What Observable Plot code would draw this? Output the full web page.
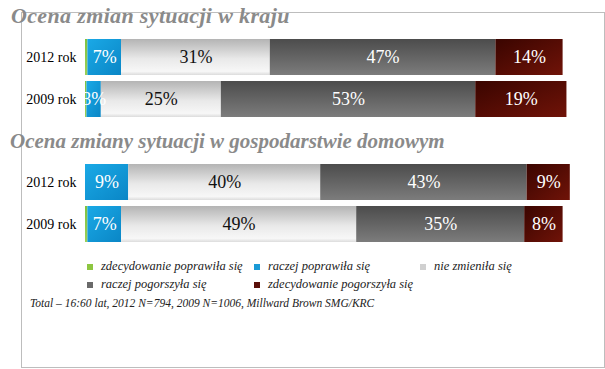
<!DOCTYPE html>
<html><head><meta charset="utf-8">
<script src="https://cdn.jsdelivr.net/npm/d3@7"></script>
<script src="https://cdn.jsdelivr.net/npm/@observablehq/plot@0.6"></script>
<style>
body{margin:0;background:#fff;}
#root{position:relative;width:605px;height:369px;overflow:hidden;font-family:"Liberation Serif",serif;}
#frame{position:absolute;left:21px;top:12px;width:582px;height:354px;border:1px solid #bdbdbd;}
.title{position:absolute;font-family:"Liberation Serif",serif;font-weight:bold;font-style:italic;color:#8a8a8a;white-space:nowrap;}
.panel{position:absolute;left:0;}
.leg{position:absolute;font-family:"Liberation Serif",serif;font-style:italic;font-size:12.5px;color:#222;white-space:nowrap;}
.leg span.sw{position:absolute;left:-14px;top:5px;width:6px;height:6px;}
#foot{position:absolute;left:30px;top:297px;font-family:"Liberation Serif",serif;font-style:italic;font-size:11.5px;color:#222;white-space:nowrap;}
</style></head>
<body>
<div id="root">
<svg width="0" height="0" style="position:absolute">
<defs>
<linearGradient id="gGreen" x1="0" y1="0" x2="0" y2="1"><stop offset="0" stop-color="#7fc241"/><stop offset="1" stop-color="#9bd058"/></linearGradient>
<linearGradient id="gBlue" x1="0" y1="0" x2="1" y2="1"><stop offset="0" stop-color="#1aa9e6"/><stop offset="1" stop-color="#0a86c6"/></linearGradient>
<linearGradient id="gLight" x1="0" y1="0" x2="0" y2="1"><stop offset="0" stop-color="#b4b4b4"/><stop offset="0.55" stop-color="#e9e9e9"/><stop offset="0.9" stop-color="#f7f7f7"/><stop offset="1" stop-color="#dcdcdc"/></linearGradient>
<linearGradient id="gDark" x1="0" y1="0" x2="0" y2="1"><stop offset="0" stop-color="#4c4c4c"/><stop offset="1" stop-color="#7c7c7c"/></linearGradient>
<linearGradient id="gRed" x1="0" y1="0" x2="1" y2="1"><stop offset="0" stop-color="#3a0500"/><stop offset="1" stop-color="#701308"/></linearGradient>
</defs></svg>
<div id="frame"></div>
<div id="t1" class="title" style="left:11px;top:3px;font-size:22px;letter-spacing:0.35px;"></div>
<div id="t2" class="title" style="left:10px;top:129px;font-size:21px;"></div>
<div id="p1" class="panel" style="top:39px"></div>
<div id="p2" class="panel" style="top:164px"></div>
<div id="legend"></div>
<div id="foot">Total – 16:60 lat, 2012 N=794, 2009 N=1006, Millward Brown SMG/KRC</div>
</div>
<script>
const categories = ["zdecydowanie poprawiła się","raczej poprawiła się","nie zmieniła się","raczej pogorszyła się","zdecydowanie pogorszyła się"];
const years = ["2012 rok","2009 rok"];
const panelTitles = ["Ocena zmian sytuacji w kraju","Ocena zmiany sytuacji w gospodarstwie domowym"];
// values per year, in category order
const kraj2012 = [0.5, 7, 31, 47, 14];
const kraj2009 = [0.3, 3, 25, 53, 19];
const dom2012 = [0, 9, 40, 43, 9];
const dom2009 = [0.5, 7, 49, 35, 8];
const labels_kraj2012 = ["", "7%", "31%", "47%", "14%"];
const labels_kraj2009 = ["", "3%", "25%", "53%", "19%"];
const labels_dom2012 = ["", "9%", "40%", "43%", "9%"];
const labels_dom2009 = ["", "7%", "49%", "35%", "8%"];

const fills = ["url(#gGreen)","url(#gBlue)","url(#gLight)","url(#gDark)","url(#gRed)"];
const swatch = ["#8dc641","#1a9ad6","#d0d0d0","#6a6a6a","#5a0f0a"];
const textCol = ["white","white","#111","white","white"];

document.getElementById("t1").textContent = panelTitles[0];
document.getElementById("t2").textContent = panelTitles[1];

function rows(v12, v09, l12, l09){
  const out = [];
  categories.forEach((c,i)=>out.push({year:years[0],cat:c,v:v12[i],label:l12[i],tc:textCol[i]}));
  categories.forEach((c,i)=>out.push({year:years[1],cat:c,v:v09[i],label:l09[i],tc:textCol[i]}));
  return out;
}

function panel(data){
  return Plot.plot({
    width:605, height:78,
    marginTop:0, marginBottom:0, marginLeft:85, marginRight:40,
    style:{fontFamily:"Liberation Serif, serif", fontSize:"14px", color:"#000", background:"transparent"},
    x:{domain:[0,100], axis:null},
    y:{domain:years, paddingInner:0.143, paddingOuter:0, label:null, tickSize:0, tickPadding:9},
    color:{domain:categories, range:fills},
    marks:[
      Plot.barX(data, Plot.stackX({x:"v", y:"year", fill:"cat", z:"cat", order:categories})),
      Plot.text(data, Plot.stackX({x:"v", y:"year", z:"cat", order:categories, text:"label", fill:"tc", fontSize:18}))
    ]
  });
}
document.getElementById("p1").appendChild(panel(rows(kraj2012,kraj2009,labels_kraj2012,labels_kraj2009)));
document.getElementById("p2").appendChild(panel(rows(dom2012,dom2009,labels_dom2012,labels_dom2009)));

const legPos = [[101,259],[268,259],[434,259],[101,277],[268,277]];
const leg = document.getElementById("legend");
categories.forEach((c,i)=>{
  const d = document.createElement("div");
  d.className="leg";
  d.style.left=legPos[i][0]+"px"; d.style.top=legPos[i][1]+"px";
  const s=document.createElement("span"); s.className="sw"; s.style.background=swatch[i];
  d.appendChild(s);
  d.appendChild(document.createTextNode(c));
  leg.appendChild(d);
});
</script>
</body></html>
